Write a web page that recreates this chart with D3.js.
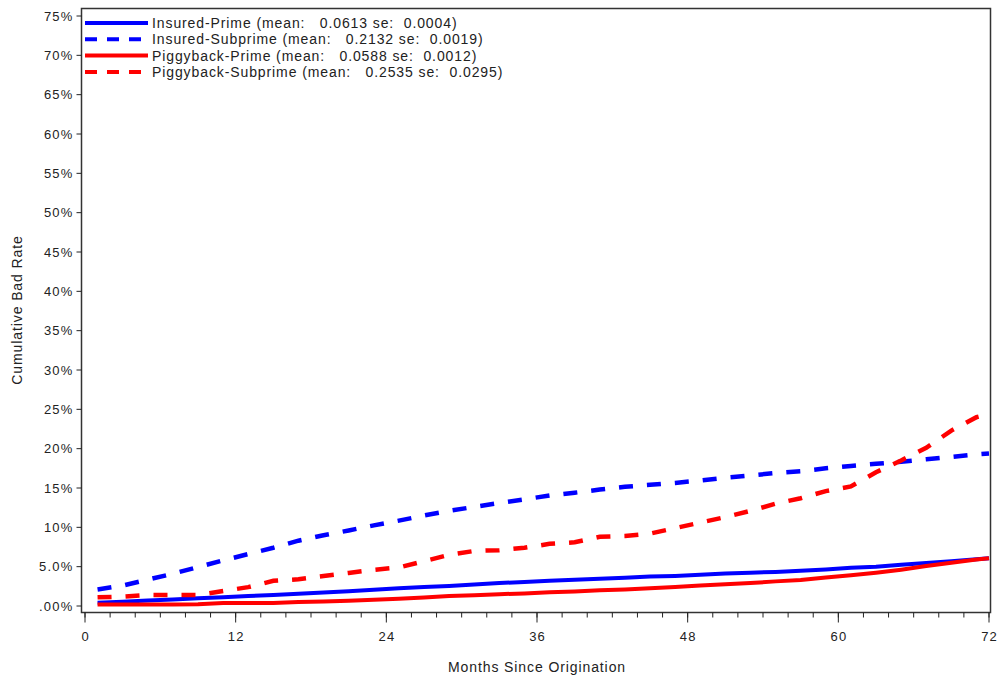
<!DOCTYPE html>
<html>
<head>
  <meta charset="utf-8">
  <script src="https://d3js.org/d3.v7.min.js"></script>
  <style>
    body {
      margin: 0;
      background: #fff;
      font-family: "Liberation Sans", Arial, sans-serif;
    }
    text {
      fill: #222;
      font-size: 14px;
      letter-spacing: 0.9px;
    }
    .tick-label {
      font-size: 13px;
      letter-spacing: 1.2px;
    }
  </style>
</head>
<body>
  <script>
    var months = [1, 3, 5, 7, 9, 11, 13, 15, 17, 19, 21, 23, 25, 27, 29, 31, 33, 35,
                  37, 39, 41, 43, 45, 47, 49, 51, 53, 55, 57, 59, 61, 63, 65, 67, 69, 71, 72];

    // cumulative bad rate, in percent
    var insuredPrime = [0.42, 0.55, 0.70, 0.84, 0.99, 1.10, 1.27, 1.40, 1.55, 1.72, 1.86, 2.06,
                        2.26, 2.40, 2.55, 2.74, 2.92, 3.06, 3.20, 3.35, 3.46, 3.60, 3.74, 3.82,
                        3.96, 4.12, 4.24, 4.32, 4.47, 4.65, 4.87, 4.98, 5.24, 5.47, 5.70, 5.93, 6.06];
    var insuredSub = [2.1, 2.6, 3.35, 4.1, 4.95, 5.8, 6.6, 7.4, 8.3, 9.0, 9.6, 10.25,
                      10.85, 11.5, 12.1, 12.6, 13.1, 13.55, 14.05, 14.4, 14.8, 15.15, 15.4, 15.65,
                      15.95, 16.3, 16.6, 16.9, 17.13, 17.5, 17.8, 18.07, 18.35, 18.65, 18.95, 19.28, 19.4];
    var piggyPrime = [0.2, 0.2, 0.2, 0.2, 0.22, 0.38, 0.38, 0.38, 0.52, 0.58, 0.68, 0.8,
                      0.92, 1.08, 1.26, 1.38, 1.5, 1.6, 1.75, 1.85, 2.0, 2.1, 2.25, 2.42,
                      2.6, 2.78, 2.92, 3.13, 3.31, 3.63, 3.9, 4.23, 4.62, 5.08, 5.5, 5.9, 6.06];
    var piggySub = [1.1, 1.2, 1.4, 1.4, 1.4, 1.9, 2.4, 3.2, 3.4, 3.8, 4.2, 4.6,
                    4.9, 5.7, 6.5, 7.0, 7.1, 7.4, 7.9, 8.1, 8.8, 8.9, 9.2, 9.9,
                    10.6, 11.3, 12.1, 13.0, 13.7, 14.6, 15.2, 17.0, 18.5, 20.1, 22.3, 24.0, 24.4];

    var seriesNames = ["Insured-Prime (mean:   0.0613 se:  0.0004)",
                       "Insured-Subprime (mean:   0.2132 se:  0.0019)",
                       "Piggyback-Prime (mean:   0.0588 se:  0.0012)",
                       "Piggyback-Subprime (mean:   0.2535 se:  0.0295)"];
    var seriesColors = ["#0000ff", "#0000ff", "#ff0000", "#ff0000"];
    var seriesDashed = [false, true, false, true];

    var xTicks = [0, 12, 24, 36, 48, 60, 72];
    var yTicks = [0, 5, 10, 15, 20, 25, 30, 35, 40, 45, 50, 55, 60, 65, 70, 75];
    var yTickLabels = [".00%", "5.0%", "10%", "15%", "20%", "25%", "30%", "35%",
                       "40%", "45%", "50%", "55%", "60%", "65%", "70%", "75%"];

    var w = 998, h = 679;
    var frame = {left: 81.5, top: 8.5, right: 990.5, bottom: 612.5};

    var svg = d3.select("body").append("svg")
      .attr("width", w)
      .attr("height", h);

    var x = d3.scaleLinear().domain([0, 72]).range([85, 989]);
    var y = d3.scaleLinear().domain([0, 75]).range([606, 16]);

    // plot frame
    svg.append("rect")
      .attr("x", frame.left).attr("y", frame.top)
      .attr("width", frame.right - frame.left)
      .attr("height", frame.bottom - frame.top)
      .attr("fill", "none")
      .attr("stroke", "#333")
      .attr("stroke-width", 1.5);

    // x axis: major ticks every 12, minor every 2
    var xAxis = svg.append("g").attr("transform", "translate(0," + frame.bottom + ")");
    xAxis.selectAll(".minor")
      .data(d3.range(0, 73, 2))
      .enter().append("line")
      .attr("x1", function(d){ return x(d); }).attr("x2", function(d){ return x(d); })
      .attr("y1", 0).attr("y2", 5)
      .attr("stroke", "#222");
    xAxis.selectAll(".major")
      .data(xTicks)
      .enter().append("line")
      .attr("x1", function(d){ return x(d); }).attr("x2", function(d){ return x(d); })
      .attr("y1", 0).attr("y2", 10)
      .attr("stroke", "#222");
    xAxis.selectAll(".lbl")
      .data(xTicks)
      .enter().append("text")
      .attr("class", "tick-label")
      .attr("x", function(d){ return x(d) + 0.6; })
      .attr("y", 28)
      .attr("text-anchor", "middle")
      .text(function(d){ return d; });

    // y axis
    var yAxis = svg.append("g").attr("transform", "translate(" + frame.left + ",0)");
    yAxis.selectAll("line")
      .data(yTicks)
      .enter().append("line")
      .attr("x1", -5).attr("x2", 0)
      .attr("y1", function(d){ return y(d); }).attr("y2", function(d){ return y(d); })
      .attr("stroke", "#222");
    yAxis.selectAll("text")
      .data(yTicks)
      .enter().append("text")
      .attr("class", "tick-label")
      .attr("x", -8)
      .attr("y", function(d){ return y(d); })
      .attr("dy", "0.35em")
      .attr("text-anchor", "end")
      .text(function(d, i){ return yTickLabels[i]; });

    // axis titles
    svg.append("text")
      .attr("x", 537).attr("y", 672)
      .attr("text-anchor", "middle")
      .text("Months Since Origination");
    svg.append("text")
      .attr("transform", "translate(22,310) rotate(-90)")
      .attr("text-anchor", "middle")
      .text("Cumulative Bad Rate");

    // series lines
    var allSeries = [insuredPrime, insuredSub, piggyPrime, piggySub];
    var line = d3.line()
      .x(function(d, i){ return x(months[i]); })
      .y(function(d){ return y(d); });

    // solid ones first so dashes sit on top
    [0, 2, 1, 3].forEach(function(k){
      svg.append("path")
        .datum(allSeries[k])
        .attr("d", line)
        .attr("fill", "none")
        .attr("stroke", seriesColors[k])
        .attr("stroke-width", seriesDashed[k] ? 4.5 : 4)
        .attr("stroke-dasharray", seriesDashed[k] ? "14,14" : null);
    });

    // legend in the top-left corner
    var legend = svg.append("g");
    seriesNames.forEach(function(name, i){
      var ly = 23 + i * 16.3;
      legend.append("line")
        .attr("x1", 85).attr("x2", 148)
        .attr("y1", ly).attr("y2", ly)
        .attr("stroke", seriesColors[i])
        .attr("stroke-width", 4)
        .attr("stroke-dasharray", seriesDashed[i] ? "12,10" : null);
      legend.append("text")
        .attr("x", 152).attr("y", ly)
        .attr("dy", "0.35em")
        .attr("xml:space", "preserve")
        .style("white-space", "pre")
        .text(name);
    });
  </script>
</body>
</html>
